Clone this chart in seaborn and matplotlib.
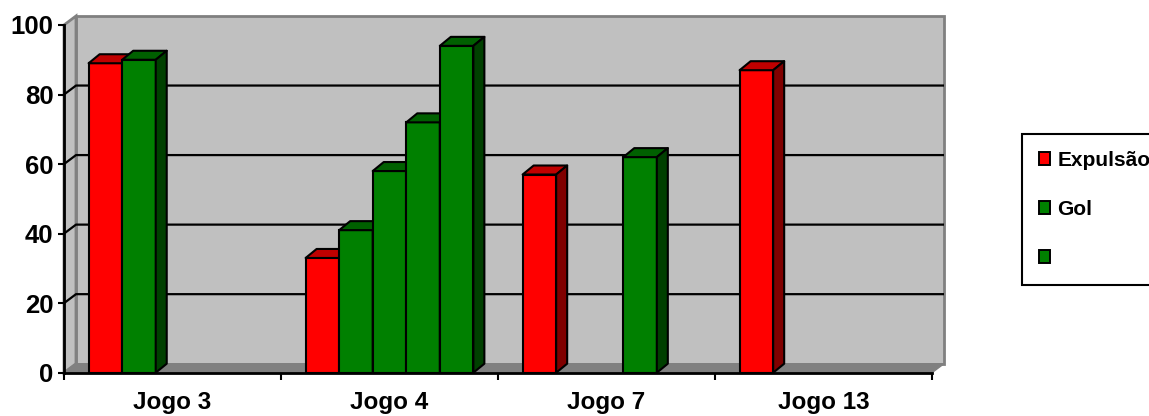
import numpy as np
import pandas as pd
import matplotlib
matplotlib.use("Agg")
import matplotlib.pyplot as plt
import seaborn as sns
from matplotlib.patches import Polygon, Rectangle, Patch

# ---- data -------------------------------------------------------------
categories = ["Jogo 3", "Jogo 4", "Jogo 7", "Jogo 13"]
series_keys = ["Expulsão", "Gol", "Série 3", "Série 4", "Série 5"]
legend_labels = ["Expulsão", "Gol", ""]
expulsao = [89, 33, 57, 87]
gol = [90, 41, np.nan, np.nan]
serie3 = [np.nan, 58, np.nan, np.nan]
serie4 = [np.nan, 72, 62, np.nan]
serie5 = [np.nan, 94, np.nan, np.nan]
y_ticks = [0, 20, 40, 60, 80, 100]

RED, RED_TOP, RED_SIDE = "#FF0000", "#C00000", "#800000"
GRN, GRN_TOP, GRN_SIDE = "#008000", "#006000", "#004000"
front_colors = [RED, GRN, GRN, GRN, GRN]
shade = {RED: (RED_TOP, RED_SIDE), GRN: (GRN_TOP, GRN_SIDE)}

rows = []
for key, vals in zip(series_keys, [expulsao, gol, serie3, serie4, serie5]):
    for cat, v in zip(categories, vals):
        rows.append({"jogo": cat, "serie": key, "valor": v})
df = pd.DataFrame(rows).dropna()

# ---- figure -----------------------------------------------------------
sns.set_style("white")
plt.rcParams["font.family"] = ["Liberation Sans", "DejaVu Sans"]
plt.rcParams["font.weight"] = "bold"
for key in ["text.color", "axes.labelcolor", "xtick.color", "ytick.color"]:
    plt.rcParams[key] = "black"

W, H = 1149, 416
fig = plt.figure(figsize=(W / 100, H / 100), dpi=100)
ax_l, ax_r, ax_t, ax_b = 64, 932, 25, 372.7
ax = fig.add_axes([ax_l / W, (H - ax_b) / H, (ax_r - ax_l) / W, (ax_b - ax_t) / H])
ax.set_facecolor("none")

XMIN, XMAX, YMIN, YMAX = -0.5, 3.5, 0, 100
px_x = (ax_r - ax_l) / (XMAX - XMIN)
px_y = (ax_b - ax_t) / (YMAX - YMIN)
# depth of the walls / floor and of the bars, in data units
dxw, dyw = 12 / px_x, 9 / px_y
dxb, dyb = 11 / px_x, 9 / px_y

sns.barplot(data=df, x="jogo", y="valor", hue="serie", order=categories,
            hue_order=series_keys, palette=front_colors, width=0.773,
            dodge=True, edgecolor="black", linewidth=1.5, legend=False,
            saturation=1, ax=ax)
ax.set_xlim(XMIN, XMAX)
ax.set_ylim(YMIN, YMAX)

# back wall, side wall and floor
wall_kw = dict(facecolor="#C0C0C0", edgecolor="#808080", linewidth=2, zorder=0.5, clip_on=False)
ax.add_patch(Rectangle((XMIN + dxw, YMIN + dyw), XMAX - XMIN, YMAX - YMIN, **wall_kw))
ax.add_patch(Polygon([(XMIN, YMIN), (XMIN + dxw, YMIN + dyw), (XMIN + dxw, YMAX + dyw),
                      (XMIN, YMAX)], closed=True, **wall_kw))
ax.add_patch(Polygon([(XMIN, YMIN), (XMAX, YMIN), (XMAX + dxw, YMIN + dyw),
                      (XMIN + dxw, YMIN + dyw)], closed=True, facecolor="#808080",
                     edgecolor="#808080", linewidth=1, zorder=0.6, clip_on=False))

# gridlines across the back wall and the side wall
for v in y_ticks[1:-1]:
    ax.plot([XMIN, XMIN + dxw, XMAX + dxw], [v, v + dyw, v + dyw], color="black",
            linewidth=1.6, zorder=1, clip_on=False, solid_capstyle="butt")

# 3D faces of the columns
bars = sorted([p for p in ax.patches if isinstance(p, Rectangle) and p.get_height() > 0
               and p.get_zorder() >= 0.9 and p.get_width() < 0.5], key=lambda p: p.get_x())
for i, p in enumerate(bars):
    x0, w, h = p.get_x(), p.get_width(), p.get_height()
    fc = matplotlib.colors.to_hex(p.get_facecolor()).upper()
    top_c, side_c = shade.get(fc, (GRN_TOP, GRN_SIDE))
    z = 10 + 3 * i
    p.set_zorder(z)
    p.set_clip_on(False)
    ax.add_patch(Polygon([(x0, h), (x0 + w, h), (x0 + w + dxb, h + dyb), (x0 + dxb, h + dyb)],
                         closed=True, facecolor=top_c, edgecolor="black", linewidth=1.5,
                         zorder=z + 1, clip_on=False, joinstyle="round"))
    ax.add_patch(Polygon([(x0 + w, 0), (x0 + w + dxb, dyb), (x0 + w + dxb, h + dyb), (x0 + w, h)],
                         closed=True, facecolor=side_c, edgecolor="black", linewidth=1.5,
                         zorder=z + 1, clip_on=False, joinstyle="round"))

# axes
for s in ["top", "right"]:
    ax.spines[s].set_visible(False)
for s in ["left", "bottom"]:
    ax.spines[s].set_color("black")
    ax.spines[s].set_linewidth(2)
    ax.spines[s].set_zorder(50)
ax.set_yticks(y_ticks)
ax.set_yticklabels([str(t) for t in y_ticks], fontsize=18.5, fontweight="bold", color="black")
ax.tick_params(axis="y", length=4.5, width=1.5, pad=3, color="black", labelcolor="black", left=True)
ax.set_xticks(range(len(categories)))
ax.set_xticklabels(categories, fontsize=17.5, fontweight="bold", color="black")
ax.set_xticks([XMIN + k for k in range(len(categories) + 1)], minor=True)
ax.tick_params(axis="x", which="major", length=0, pad=13, labelcolor="black")
ax.tick_params(axis="x", which="minor", length=5, width=1.5, color="black", bottom=True)
ax.set_xlabel("")
ax.set_ylabel("")

# legend
handles = [Patch(facecolor=c, edgecolor="black", linewidth=1.4) for c in front_colors[:3]]
leg = fig.legend(handles, legend_labels, loc="upper left",
                 bbox_to_anchor=(1022 / W, (H - 134) / H), borderaxespad=0,
                 frameon=True, fancybox=False, framealpha=1, edgecolor="black",
                 handlelength=0.55, handleheight=0.55, handletextpad=0.35,
                 labelspacing=1.45, borderpad=0.8, labelcolor="black",
                 prop={"size": 15, "weight": "bold"})
leg.get_frame().set_linewidth(1.5)

fig.savefig("out.png", dpi=100)
